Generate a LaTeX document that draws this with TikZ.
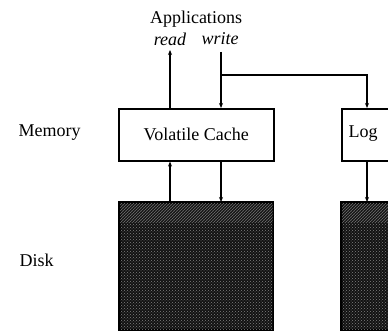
\documentclass[tikz,border=0pt]{standalone}
\usepackage{fontspec}
\setmainfont{Liberation Serif}
\usetikzlibrary{arrows.meta,patterns}
\begin{document}
\begin{tikzpicture}[x=1pt,y=-1pt,
  font=\fontsize{18}{20}\selectfont,
  membox/.style={draw,line width=1.6pt,inner sep=0pt,anchor=north west,fill=white},
  diskbox/.style={draw,line width=1.6pt,inner sep=0pt,anchor=north west,fill=black!93},
  link/.style={line width=1.2pt,-{Stealth[length=5pt,width=4pt]}},
  plain/.style={line width=1.2pt}]
\clip (0,0) rectangle (388,331);
\useasboundingbox (0,0) rectangle (388,331);

% labels
\node (apps) at (196,19) {Applications};
\node[font=\fontsize{18}{20}\selectfont\itshape] (rd) at (170,39) {read};
\node[font=\fontsize{18}{20}\selectfont\itshape] (wr) at (220,39) {write};
\node[anchor=west] (mem) at (15,133) {Memory};
\node[anchor=west] (dsk) at (16,260) {Disk};

% memory level
\node[membox,minimum width=155pt,minimum height=52pt] (cache) at (118,108) {};
\node at (cache.center) {Volatile Cache};
\node[membox,minimum width=60pt,minimum height=52pt] (log) at (341,108) {};
\node (logt) at (363,134) {Log};

% disk level
\node[diskbox,minimum width=153pt,minimum height=127pt] (cdisk) at (119,202) {};
\node[diskbox,minimum width=60pt,minimum height=127pt] (ldisk) at (341,202) {};
\fill[pattern=crosshatch dots,pattern color=black!50] (cdisk.north west) rectangle (cdisk.south east);
\fill[pattern=crosshatch dots,pattern color=black!50] (ldisk.north west) rectangle (ldisk.south east);
\fill[pattern=north east lines,pattern color=black!60] ([xshift=1pt,yshift=-1pt]cdisk.north west) rectangle ([xshift=-1pt]cdisk.north east |- 0,222);
\fill[pattern=north east lines,pattern color=black!60] ([xshift=1pt,yshift=-1pt]ldisk.north west) rectangle ([xshift=-1pt]ldisk.north east |- 0,222);
\draw[line width=1.6pt] (cdisk.north west) rectangle (cdisk.south east);
\draw[line width=1.6pt] (ldisk.north west) rectangle (ldisk.south east);

% coordinates of the vertical paths
\coordinate (rtop) at (170,50);
\coordinate (wtop) at (221,52);
\coordinate (wbend) at (221,75);
\coordinate (lbend) at (367,75);

% application reads and writes
\draw[link] (cache.north -| rtop) -- (rtop);
\draw[link] (wtop) -- (cache.north -| wtop);
\draw[link] (wbend) -- (lbend) -- (log.north -| lbend);

% traffic between memory and disk
\draw[link] (cdisk.north -| rtop) -- (cache.south -| rtop);
\draw[link] (cache.south -| wtop) -- (cdisk.north -| wtop);
\draw[link] (log.south -| lbend) -- (ldisk.north -| lbend);
\end{tikzpicture}
\end{document}
